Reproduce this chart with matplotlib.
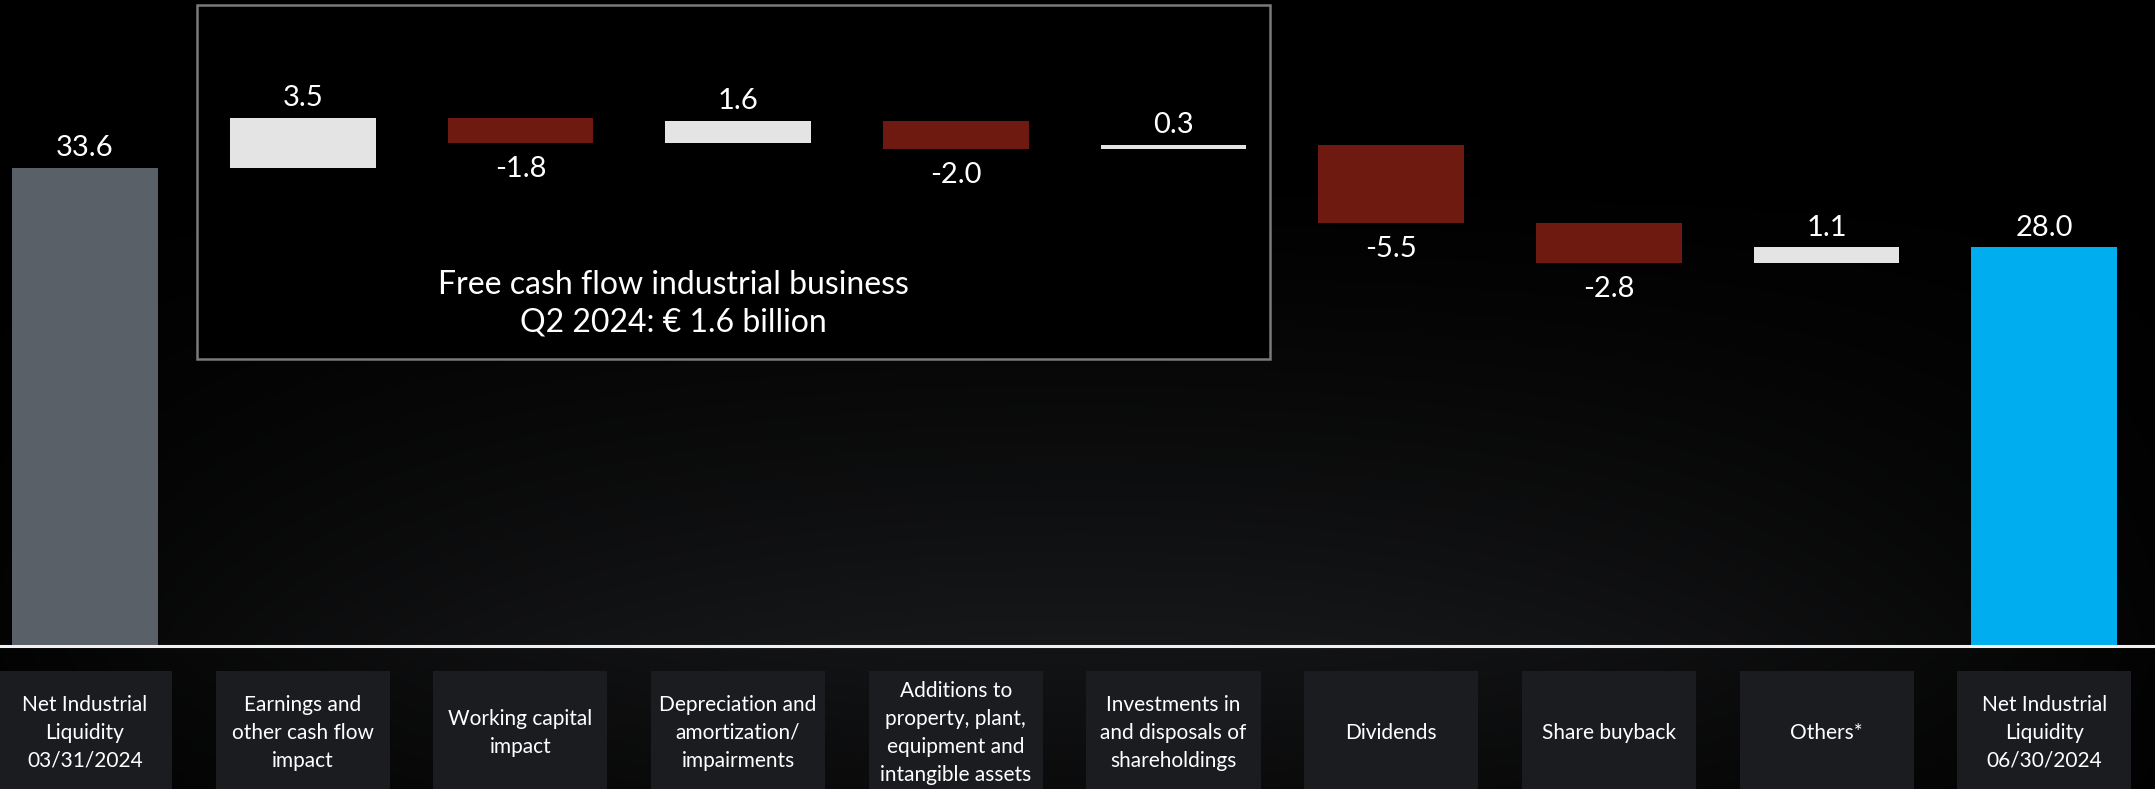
import numpy as np
import matplotlib.pyplot as plt
from matplotlib.patches import Rectangle

# data
categories = ["Net Industrial\nLiquidity\n03/31/2024", "Earnings and\nother cash flow\nimpact",
              "Working capital\nimpact", "Depreciation and\namortization/\nimpairments",
              "Additions to\nproperty, plant,\nequipment and\nintangible assets",
              "Investments in\nand disposals of\nshareholdings", "Dividends", "Share buyback",
              "Others*", "Net Industrial\nLiquidity\n06/30/2024"]
start_value = 33.6
changes = [3.5, -1.8, 1.6, -2.0, 0.3, -5.5, -2.8, 1.1]
end_value = 28.0
box_title = "Free cash flow industrial business\nQ2 2024: € 1.6 billion"

plt.rcParams['font.family'] = ['Lato', 'DejaVu Sans']

W, H = 2155, 789
fig = plt.figure(figsize=(W / 100, H / 100), dpi=100)
fig.patch.set_facecolor('black')

# background gradient
bg = fig.add_axes([0, 0, 1, 1], zorder=0)
bg.set_axis_off()
yy, xx = np.mgrid[0:H, 0:W]
xn = (xx - W / 2) / (W / 2)
horiz = np.clip(1 - xn ** 2 * 0.85, 0, 1)
base_y = 646
vert = np.where(yy < base_y, np.clip((yy - 150) / (base_y - 150), 0, 1) ** 1.3,
                np.clip(1 - (yy - base_y) / 320, 0, 1) * 0.85)
inten = vert * horiz
img = np.zeros((H, W, 3))
img[..., 0] = 0.09 * inten
img[..., 1] = 0.093 * inten
img[..., 2] = 0.1 * inten
bg.imshow(img, aspect='auto', extent=[0, 1, 0, 1], origin='upper')
bg.set_xlim(0, 1)
bg.set_ylim(0, 1)

ax = fig.add_axes([0, 0, 1, 1], zorder=1)
ax.patch.set_alpha(0)
px = 14.24  # pixels per unit
ax.set_xlim(-85 / 217.7, (W - 85) / 217.7)
ax.set_ylim(-(H - base_y) / px, base_y / px)
ax.set_axis_off()

# waterfall geometry
n = len(categories)
x = np.arange(n)
bottoms, heights, colors = [0], [start_value], ['#5a6068']
level = start_value
for c in changes:
    if c >= 0:
        bottoms.append(level)
        heights.append(c)
        colors.append('#e4e4e4')
    else:
        bottoms.append(level + c)
        heights.append(-c)
        colors.append('#6e1a10')
    level += c
bottoms.append(0)
heights.append(end_value)
colors.append('#00aeef')

bw = 0.669
ax.bar(x, heights, bottom=bottoms, width=bw, color=colors, zorder=3)

values = [start_value] + changes + [end_value]
for i, v in enumerate(values):
    if v >= 0:
        ax.text(x[i], bottoms[i] + heights[i] + 0.45, f"{v:.1f}", ha='center', va='bottom',
                color='white', fontsize=21, zorder=4)
    else:
        ax.text(x[i], bottoms[i] - 0.9, f"{v:.1f}", ha='center', va='top',
                color='white', fontsize=21, zorder=4)

# baseline
ax.axhline(0, color='#f0f0f0', lw=2.2, zorder=4)

# category label boxes
box_top = -25 / px
box_bot = -(H - base_y) / px
ax.bar(x, box_top - box_bot, bottom=box_bot, width=0.80, color='#1b1c1f', zorder=2)
for i, lab in enumerate(categories):
    ax.text(x[i], (box_top + box_bot) / 2 - 0.2, lab, ha='center', va='center', color='white',
            fontsize=15, linespacing=1.5, zorder=4)

# free cash flow box
x0, x1 = (197 - 85) / 217.7, (1270 - 85) / 217.7
y0, y1 = (base_y - 359) / px, (base_y - 5.5) / px
ax.add_patch(Rectangle((x0, y0), x1 - x0, y1 - y0, facecolor='black', edgecolor='#7a7a7a',
                       lw=1.8, zorder=1.5))
ax.text((673 - 85) / 217.7, (base_y - 304) / px, box_title, ha='center', va='center',
        color='white', fontsize=23, linespacing=1.3, zorder=4)

fig.savefig('out.png', dpi=100, facecolor='black')
